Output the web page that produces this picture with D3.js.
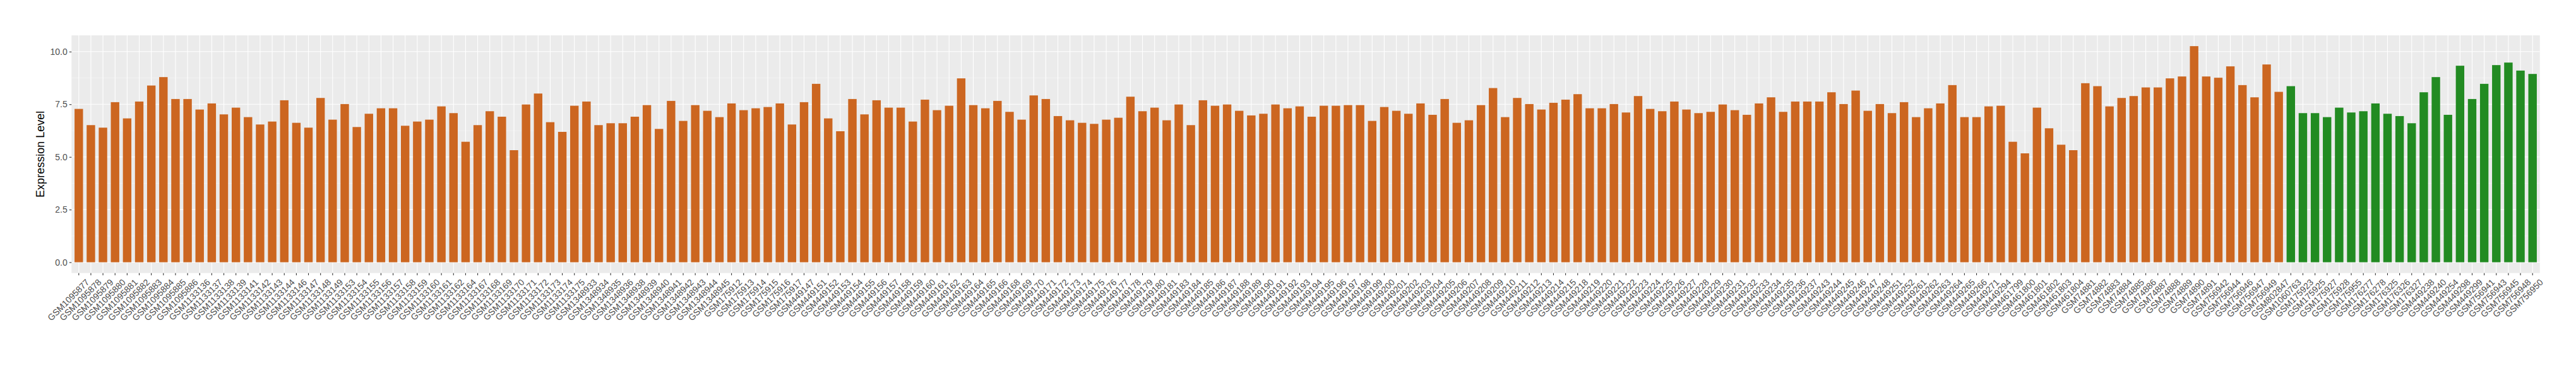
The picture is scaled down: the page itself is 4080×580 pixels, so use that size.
<!DOCTYPE html>
<html>
<head>
<meta charset="utf-8">
<script src="https://cdn.jsdelivr.net/npm/d3@7"></script>
<style>
  html, body { margin: 0; padding: 0; background: #ffffff; }
  svg { display: block; }
  text { font-family: "Liberation Sans", Arial, Helvetica, sans-serif; }
</style>
</head>
<body>
<svg id="chart" width="4080" height="580"></svg>
<script>
// ---------- DATA ----------
const samplesA = [
  "GSM1095877","GSM1095878","GSM1095879","GSM1095880","GSM1095881","GSM1095882","GSM1095883","GSM1095884","GSM1095885","GSM1095886",
  "GSM1133136","GSM1133137","GSM1133138","GSM1133139","GSM1133141","GSM1133142","GSM1133143","GSM1133144","GSM1133146","GSM1133147",
  "GSM1133148","GSM1133149","GSM1133153","GSM1133154","GSM1133155","GSM1133156","GSM1133157","GSM1133158","GSM1133159","GSM1133160",
  "GSM1133161","GSM1133162","GSM1133164","GSM1133167","GSM1133168","GSM1133169","GSM1133170","GSM1133171","GSM1133172","GSM1133173",
  "GSM1133174","GSM1133175",
  "GSM1348933","GSM1348934","GSM1348935","GSM1348936","GSM1348938","GSM1348939","GSM1348940","GSM1348941","GSM1348942","GSM1348943",
  "GSM1348944","GSM1348945",
  "GSM175912","GSM175913","GSM175914","GSM175915","GSM175916","GSM175917",
  "GSM449147","GSM449151","GSM449152","GSM449153","GSM449154","GSM449155","GSM449156","GSM449157","GSM449158","GSM449159",
  "GSM449160","GSM449161","GSM449162","GSM449163","GSM449164","GSM449165","GSM449166","GSM449168","GSM449169","GSM449170",
  "GSM449171","GSM449172","GSM449173","GSM449174","GSM449175","GSM449176","GSM449177","GSM449178","GSM449179","GSM449180",
  "GSM449181","GSM449183","GSM449184","GSM449185","GSM449186","GSM449187","GSM449188","GSM449189","GSM449190","GSM449191",
  "GSM449192","GSM449193","GSM449194","GSM449195","GSM449196","GSM449197","GSM449198","GSM449199","GSM449200","GSM449201",
  "GSM449202","GSM449203","GSM449204","GSM449205","GSM449206","GSM449207","GSM449208","GSM449209","GSM449210","GSM449211",
  "GSM449212","GSM449213","GSM449214","GSM449215","GSM449218","GSM449219","GSM449220","GSM449221","GSM449222","GSM449223",
  "GSM449224","GSM449225","GSM449226","GSM449227","GSM449228","GSM449229","GSM449230","GSM449231","GSM449232","GSM449233",
  "GSM449234","GSM449235","GSM449236","GSM449237","GSM449243","GSM449244","GSM449245","GSM449246","GSM449247","GSM449248",
  "GSM449251","GSM449252","GSM449261","GSM449262","GSM449263","GSM449264","GSM449265","GSM449266","GSM449271","GSM449294",
  "GSM461799","GSM461800","GSM461801","GSM461802","GSM461803","GSM461804",
  "GSM74881","GSM74882","GSM74883","GSM74884","GSM74885","GSM74886","GSM74887","GSM74888","GSM74889","GSM74890","GSM74891",
  "GSM756942","GSM756944","GSM756946","GSM756947","GSM756949",
  "GSM802847"
];
const valuesA = [
  7.28,6.51,6.39,7.60,6.83,7.63,8.39,8.79,7.75,7.75,
  7.25,7.54,7.02,7.34,6.89,6.54,6.68,7.69,6.62,6.39,
  7.80,6.77,7.51,6.42,7.05,7.31,7.31,6.48,6.68,6.77,
  7.40,7.08,5.72,6.51,7.17,6.91,5.32,7.49,8.01,6.65,
  6.19,7.43,
  7.63,6.51,6.60,6.60,6.91,7.46,6.33,7.66,6.71,7.46,
  7.19,6.89,
  7.54,7.22,7.31,7.37,7.54,6.54,
  7.60,8.47,6.83,6.22,7.75,7.02,7.69,7.34,7.34,6.68,
  7.72,7.22,7.43,8.73,7.46,7.31,7.66,7.14,6.77,7.92,
  7.75,6.94,6.74,6.62,6.57,6.77,6.86,7.86,7.17,7.34,
  6.74,7.49,6.51,7.69,7.43,7.49,7.19,6.97,7.05,7.49,
  7.31,7.40,6.91,7.43,7.43,7.46,7.46,6.71,7.37,7.19,
  7.05,7.54,7.00,7.75,6.62,6.74,7.46,8.27,6.89,7.80,
  7.51,7.25,7.57,7.72,7.98,7.31,7.31,7.51,7.11,7.89,
  7.28,7.17,7.63,7.25,7.08,7.14,7.49,7.22,7.00,7.54,
  7.83,7.14,7.63,7.63,7.63,8.07,7.51,8.15,7.19,7.51,
  7.08,7.60,6.89,7.31,7.54,8.41,6.89,6.89,7.40,7.43,
  5.72,5.17,7.34,6.36,5.58,5.32,
  8.50,8.36,7.40,7.80,7.89,8.30,8.30,8.73,8.82,10.26,8.82,
  8.76,9.30,8.41,7.83,9.39,
  8.09
];
const samplesB = [
  "GSM1060763","GSM175923","GSM175925","GSM175927","GSM175928","GSM175955","GSM176277","GSM176278",
  "GSM176325","GSM176326","GSM176327","GSM449238","GSM449240","GSM449254","GSM449298","GSM449299",
  "GSM756941","GSM756943","GSM756945","GSM756948","GSM756950"
];
const valuesB = [
  8.36,7.08,7.08,6.89,7.34,7.11,7.17,7.54,
  7.05,6.94,6.60,8.07,8.79,7.00,9.33,7.75,
  8.47,9.36,9.48,9.10,8.94
];
const yTicks = [0, 2.5, 5, 7.5, 10];
const yMinor = [1.25, 3.75, 6.25, 8.75];
const yTitle = "Expression Level";
const groupColors = { A: "#CC6620", B: "#228B22" };

// ---------- BUILD ----------
const data = samplesA.map((s, i) => ({ sample: s, value: valuesA[i], group: "A" }))
  .concat(samplesB.map((s, i) => ({ sample: s, value: valuesB[i], group: "B" })));

const W = 4080, H = 580;
const panel = { left: 113.3, right: 4022.7, top: 56, bottom: 432.7 };

const svg = d3.select("#chart");

const x = d3.scaleBand()
  .domain(data.map(d => d.sample))
  .range([panel.left, panel.right])
  .paddingInner(0.3)
  .paddingOuter(0.25);

const vmax = d3.max(data, d => d.value);
const ext = vmax * 0.05;
const y = d3.scaleLinear()
  .domain([-ext, vmax + ext])
  .range([panel.bottom, panel.top]);

// panel background
svg.append("rect")
  .attr("x", panel.left).attr("y", panel.top)
  .attr("width", panel.right - panel.left)
  .attr("height", panel.bottom - panel.top)
  .attr("fill", "#EBEBEB");

const grid = svg.append("g");
// minor horizontal grid
grid.selectAll("line.minor").data(yMinor).join("line")
  .attr("class", "minor")
  .attr("x1", panel.left).attr("x2", panel.right)
  .attr("y1", d => y(d)).attr("y2", d => y(d))
  .attr("stroke", "#F7F7F7").attr("stroke-width", 0.6);
// major horizontal grid
grid.selectAll("line.major").data(yTicks).join("line")
  .attr("class", "major")
  .attr("x1", panel.left).attr("x2", panel.right)
  .attr("y1", d => y(d)).attr("y2", d => y(d))
  .attr("stroke", "#FFFFFF").attr("stroke-width", 1.1);
// vertical grid
grid.selectAll("line.v").data(x.domain()).join("line")
  .attr("class", "v")
  .attr("x1", d => x(d) + x.bandwidth() / 2).attr("x2", d => x(d) + x.bandwidth() / 2)
  .attr("y1", panel.top).attr("y2", panel.bottom)
  .attr("stroke", "#FFFFFF").attr("stroke-width", 1.1);

// bars
svg.append("g").selectAll("rect").data(data).join("rect")
  .attr("x", d => x(d.sample))
  .attr("width", x.bandwidth())
  .attr("y", d => y(d.value))
  .attr("height", d => y(0) - y(d.value))
  .attr("fill", d => groupColors[d.group]);

// y axis
const yAxis = svg.append("g")
  .attr("transform", `translate(${panel.left},0)`)
  .call(d3.axisLeft(y).tickValues(yTicks).tickFormat(d3.format(".1f")).tickSize(3.5).tickPadding(3));
yAxis.select(".domain").remove();
yAxis.selectAll(".tick line").attr("stroke", "#333333").attr("stroke-width", 1.1);
yAxis.selectAll(".tick text").attr("fill", "#4D4D4D").style("font-size", "14px")
  .style("font-family", "'Liberation Sans', Arial, sans-serif");

// x axis
const xAxis = svg.append("g")
  .attr("transform", `translate(0,${panel.bottom})`)
  .call(d3.axisBottom(x).tickSize(3.5).tickPadding(3));
xAxis.select(".domain").remove();
xAxis.selectAll(".tick line").attr("stroke", "#333333").attr("stroke-width", 1.1);
xAxis.selectAll(".tick text")
  .attr("fill", "#4D4D4D")
  .style("font-size", "14px")
  .style("font-family", "'Liberation Sans', Arial, sans-serif")
  .attr("text-anchor", "end")
  .attr("dy", "0.7em")
  .attr("transform", "translate(6,4) rotate(-45)");

// y title
svg.append("text")
  .attr("transform", `translate(70,${(panel.top + panel.bottom) / 2}) rotate(-90)`)
  .attr("text-anchor", "middle")
  .attr("fill", "#000000")
  .style("font-size", "18px")
  .text(yTitle);
</script>
</body>
</html>
